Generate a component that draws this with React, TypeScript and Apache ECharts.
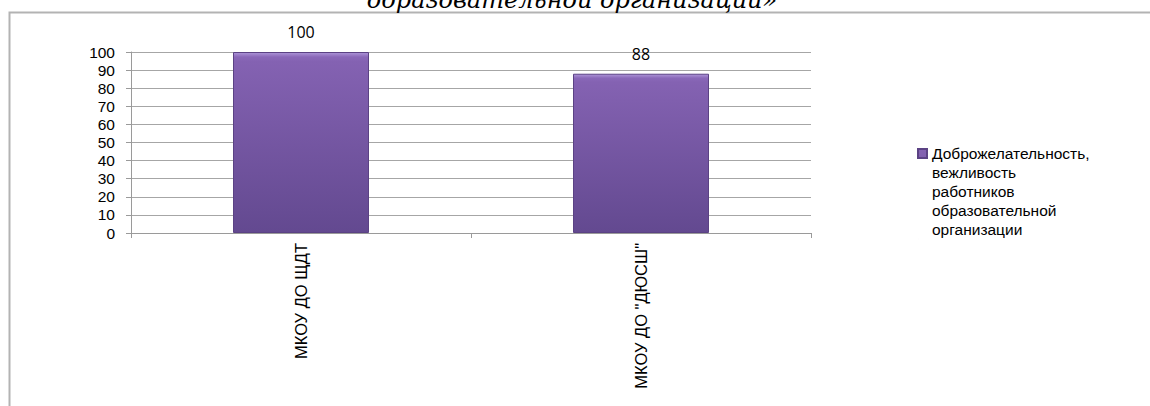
import React, { useEffect, useRef } from "react";
import * as echarts from "echarts";

const categories = ["МКОУ ДО ЩДТ", 'МКОУ ДО "ДЮСШ"'];
const values = [100, 88];
const seriesName =
  "Доброжелательность,\nвежливость\nработников\nобразовательной\nорганизации";
const titleText = "образовательной организации»";

export default function App() {
  const ref = useRef<HTMLDivElement>(null);
  useEffect(() => {
    if (!ref.current) return;
    const chart = echarts.init(ref.current, null, { renderer: "svg" });
    const barGradient = new echarts.graphic.LinearGradient(0, 0, 0, 1, [
      { offset: 0, color: "#ad95d8" },
      { offset: 0.025, color: "#8a68b9" },
      { offset: 0.05, color: "#8462b2" },
      { offset: 1, color: "#634990" },
    ]);
    chart.setOption({
      animation: false,
      backgroundColor: "#ffffff",
      graphic: [
        {
          type: "rect",
          shape: { x: 9.5, y: 12.5, width: 1160, height: 420 },
          style: { fill: "none", stroke: "#b3b3b3", lineWidth: 2 },
          z: 0,
        },
        {
          type: "text",
          x: 572,
          y: 0,
          style: {
            text: titleText,
            font: "italic 24px 'DejaVu Serif'",
            fill: "#000000",
            align: "center",
            verticalAlign: "middle",
          },
        },
      ],
      grid: { left: 131, right: 339, top: 52, bottom: 173, containLabel: false },
      legend: {
        show: true,
        left: 917,
        top: 143,
        padding: 0,
        orient: "vertical",
        itemWidth: 9,
        itemHeight: 95,
        itemGap: 4,
        icon: "path://M0,5 L9,5 L9,14 L0,14 Z M0,0 L0.01,0 M0,95 L0.01,95",
        textStyle: {
          fontFamily: "Liberation Sans",
          fontSize: 15.5,
          color: "#000000",
          lineHeight: 19,
        },
        data: [seriesName],
      },
      xAxis: {
        type: "category",
        data: categories,
        axisLine: { lineStyle: { color: "#9a9a9a", width: 1 } },
        axisTick: { show: true, length: 5, lineStyle: { color: "#9a9a9a" } },
        axisLabel: {
          rotate: 90,
          margin: 10,
          fontFamily: "Liberation Sans",
          fontSize: 16.5,
          color: "#000000",
          interval: 0,
        },
      },
      yAxis: {
        type: "value",
        min: 0,
        max: 100,
        interval: 10,
        axisLine: { show: true, lineStyle: { color: "#9a9a9a" } },
        axisTick: { show: true, length: 5, lineStyle: { color: "#9a9a9a" } },
        splitLine: { lineStyle: { color: "#a6a6a6", width: 1 } },
        axisLabel: {
          margin: 16,
          fontFamily: "Liberation Sans",
          fontSize: 15.5,
          color: "#000000",
        },
      },
      series: [
        {
          name: seriesName,
          type: "bar",
          data: values,
          barWidth: "40%",
          itemStyle: {
            color: barGradient,
            borderColor: "#5b4284",
            borderWidth: 1,
          },
          label: {
            show: true,
            position: "top",
            distance: 12,
            fontFamily: "Open Sans",
            fontSize: 16,
            color: "#000000",
          },
        },
      ],
    });
    return () => chart.dispose();
  }, []);
  return (
    <div
      ref={ref}
      style={{ position: "fixed", left: 0, top: 0, width: 1150, height: 406 }}
    />
  );
}
